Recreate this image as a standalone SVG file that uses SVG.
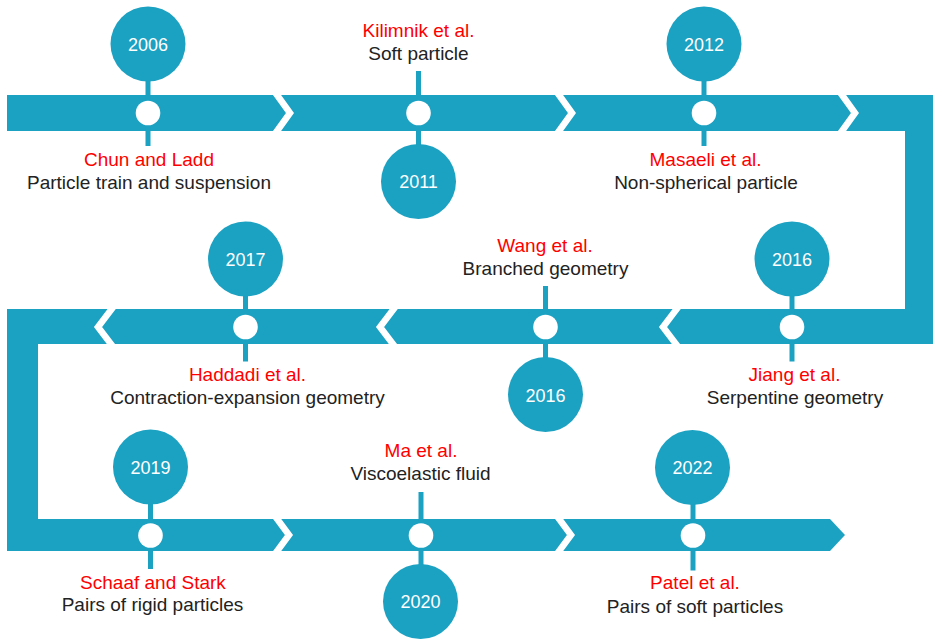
<svg xmlns="http://www.w3.org/2000/svg" width="933" height="639" viewBox="0 0 933 639">
<style>
  .band{fill:#1ba1c2}
  .chev{fill:none;stroke:#ffffff;stroke-width:6.5;stroke-linejoin:miter}
  .stem{stroke:#1ba1c2;stroke-width:5}
  .dot{fill:#ffffff}
  .yc{fill:#1ba1c2}
  .yt{font-family:"Liberation Sans",Arial,Helvetica,sans-serif;font-size:18px;fill:#ffffff;text-anchor:middle}
  .au{font-family:"Liberation Sans",Arial,Helvetica,sans-serif;font-size:19px;fill:#ff0000;text-anchor:middle}
  .ds{font-family:"Liberation Sans",Arial,Helvetica,sans-serif;font-size:19px;fill:#222222;text-anchor:middle}
</style>
<rect width="933" height="639" fill="#ffffff"/>
<g id="timeline">
  <path class="band" d="M7,95 H933 V344 H38 V519 H830 L845,535 L830,551 H7 V309 H905 V131 H7 Z"/>
  <polyline class="chev" points="272,88 290,113 272,138"/>
  <polyline class="chev" points="554,88 572,113 554,138"/>
  <polyline class="chev" points="837,88 855,113 837,138"/>
  <polyline class="chev" points="682,302 663,327 682,352"/>
  <polyline class="chev" points="399,302 380,327 399,352"/>
  <polyline class="chev" points="117,302 98,327 117,352"/>
  <polyline class="chev" points="272,512 289,535 272,558"/>
  <polyline class="chev" points="554,512 571,535 554,558"/>
</g>
<g id="connectors">
  <line class="stem" x1="148" y1="80" x2="148" y2="146"/>
  <line class="stem" x1="418.5" y1="71" x2="418.5" y2="145"/>
  <line class="stem" x1="704" y1="80" x2="704" y2="146"/>
  <line class="stem" x1="792" y1="295" x2="792" y2="361.5"/>
  <line class="stem" x1="545.5" y1="286" x2="545.5" y2="358"/>
  <line class="stem" x1="245.5" y1="295" x2="245.5" y2="361.5"/>
  <line class="stem" x1="150.5" y1="503" x2="150.5" y2="569"/>
  <line class="stem" x1="421" y1="492" x2="421" y2="565"/>
  <line class="stem" x1="693" y1="504" x2="693" y2="570.5"/>
</g>
<g id="node-2006">
  <circle class="yc" cx="148" cy="44" r="37.5"/>
  <text class="yt" x="148" y="50.5">2006</text>
  <circle class="dot" cx="148" cy="113" r="12.3"/>
  <text class="au" x="149" y="166">Chun and Ladd</text>
  <text class="ds" x="149" y="189">Particle train and suspension</text>
</g>
<g id="node-2011">
  <text class="au" x="418.5" y="36.7">Kilimnik et al.</text>
  <text class="ds" x="418.5" y="60">Soft particle</text>
  <circle class="dot" cx="418.5" cy="113" r="12.3"/>
  <circle class="yc" cx="418.5" cy="181.5" r="37.5"/>
  <text class="yt" x="418.5" y="188">2011</text>
</g>
<g id="node-2012">
  <circle class="yc" cx="704" cy="44" r="37.5"/>
  <text class="yt" x="704" y="50.5">2012</text>
  <circle class="dot" cx="704" cy="113" r="12.3"/>
  <text class="au" x="705.5" y="166">Masaeli et al.</text>
  <text class="ds" x="706" y="189">Non-spherical particle</text>
</g>
<g id="node-2016a">
  <circle class="yc" cx="792" cy="259" r="37.5"/>
  <text class="yt" x="792" y="265.5">2016</text>
  <circle class="dot" cx="792" cy="327" r="12.3"/>
  <text class="au" x="794.5" y="381">Jiang et al.</text>
  <text class="ds" x="795" y="404">Serpentine geometry</text>
</g>
<g id="node-2016b">
  <text class="au" x="545" y="251.7">Wang et al.</text>
  <text class="ds" x="545.5" y="275">Branched geometry</text>
  <circle class="dot" cx="545.5" cy="327" r="12.3"/>
  <circle class="yc" cx="545.5" cy="394.5" r="37.5"/>
  <text class="yt" x="545.5" y="401.5">2016</text>
</g>
<g id="node-2017">
  <circle class="yc" cx="245.5" cy="259" r="37.5"/>
  <text class="yt" x="245.5" y="265.5">2017</text>
  <circle class="dot" cx="245.5" cy="327" r="12.3"/>
  <text class="au" x="247.5" y="381">Haddadi et al.</text>
  <text class="ds" x="247.5" y="404">Contraction-expansion geometry</text>
</g>
<g id="node-2019">
  <circle class="yc" cx="150.5" cy="467" r="37.5"/>
  <text class="yt" x="150.5" y="473.5">2019</text>
  <circle class="dot" cx="150.5" cy="535.5" r="12.3"/>
  <text class="au" x="153" y="588.5">Schaaf and Stark</text>
  <text class="ds" x="152.5" y="611">Pairs of rigid particles</text>
</g>
<g id="node-2020">
  <text class="au" x="421" y="457.3">Ma et al.</text>
  <text class="ds" x="420.5" y="480">Viscoelastic fluid</text>
  <circle class="dot" cx="421" cy="535.5" r="12.3"/>
  <circle class="yc" cx="420.5" cy="601.5" r="37.5"/>
  <text class="yt" x="420.5" y="608">2020</text>
</g>
<g id="node-2022">
  <circle class="yc" cx="692.5" cy="467.5" r="37.5"/>
  <text class="yt" x="692.5" y="474">2022</text>
  <circle class="dot" cx="693" cy="535.5" r="12.3"/>
  <text class="au" x="695" y="589.3">Patel et al.</text>
  <text class="ds" x="695" y="612.5">Pairs of soft particles</text>
</g>
</svg>
